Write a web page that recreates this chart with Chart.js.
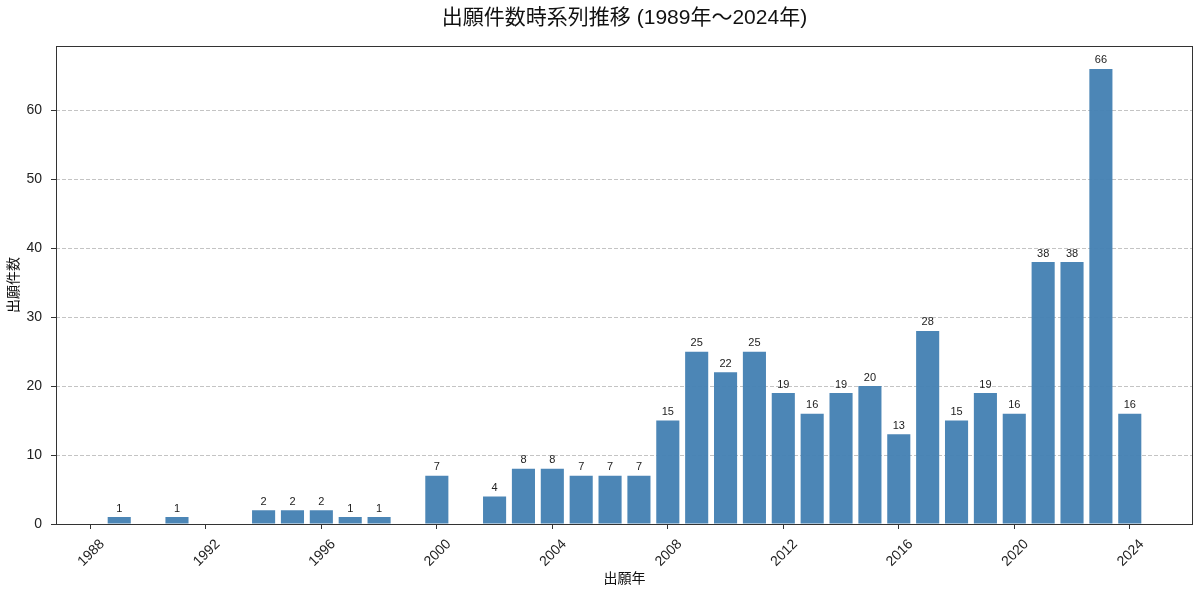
<!DOCTYPE html>
<html lang="ja">
<head>
<meta charset="utf-8">
<title>出願件数時系列推移</title>
<script src="https://cdn.jsdelivr.net/npm/chart.js@4.4.1/dist/chart.umd.min.js"></script>
<style>
  html, body { margin: 0; padding: 0; background: #fff; }
  #wrap { width: 1200px; height: 596px; position: relative; }
</style>
</head>
<body>
<div id="wrap"><canvas id="chart"></canvas></div>
<script>
// 出願年と件数
const years = [1989, 1991, 1994, 1995, 1996, 1997, 1998, 2000, 2002, 2003, 2004, 2005, 2006, 2007, 2008, 2009,
               2010, 2011, 2012, 2013, 2014, 2015, 2016, 2017, 2018, 2019, 2020, 2021, 2022, 2023, 2024];
const counts = [1, 1, 2, 2, 2, 1, 1, 7, 4, 8, 8, 7, 7, 7, 15, 25,
                22, 25, 19, 16, 19, 20, 13, 28, 15, 19, 16, 38, 38, 66, 16];
const xTicks = [1988, 1992, 1996, 2000, 2004, 2008, 2012, 2016, 2020, 2024];
const yTicks = [0, 10, 20, 30, 40, 50, 60];

const FONT = "'Liberation Sans', 'Noto Sans CJK JP', sans-serif";

// matplotlib風の余白 (5%)
const xMinData = years[0] - 0.4, xMaxData = years[years.length - 1] + 0.4;
const xPad = (xMaxData - xMinData) * 0.05;
const yMax = Math.max(...counts) * 1.05;

// 枠線（4辺）
const frame = {
    id: 'frame',
    afterDraw(chart) {
        const { ctx, chartArea: a } = chart;
        ctx.save();
        ctx.strokeStyle = '#333';
        ctx.lineWidth = 1;
        ctx.strokeRect(Math.round(a.left) + 0.5, Math.round(a.top) + 0.5,
                       Math.round(a.right - a.left) - 1, Math.round(a.bottom - a.top));
        ctx.restore();
    }
};

// 棒の上の数値
const valueLabels = {
    id: 'valueLabels',
    afterDraw(chart) {
        const { ctx } = chart;
        const meta = chart.getDatasetMeta(0);
        ctx.save();
        ctx.font = '11px ' + FONT;
        ctx.fillStyle = '#222';
        ctx.textAlign = 'center';
        ctx.textBaseline = 'bottom';
        meta.data.forEach((bar, i) => {
            ctx.fillText(String(counts[i]), bar.x, bar.y - 3);
        });
        ctx.restore();
    }
};

const ctx = document.getElementById('chart').getContext('2d');
const chart = new Chart(ctx, {
    type: 'bar',
    data: {
        datasets: [{
            label: '出願件数',
            data: years.map((y, i) => ({ x: y, y: counts[i] })),
            backgroundColor: 'rgba(70,130,180,0.97)',
            borderWidth: 0,
            barPercentage: 0.8,
            categoryPercentage: 1.0
        }]
    },
    options: {
        responsive: true,
        maintainAspectRatio: false,
        animation: false,
        devicePixelRatio: 1,
        layout: { padding: { left: 0, right: 7, top: 0, bottom: 0 } },
        plugins: {
            legend: { display: false },
            tooltip: { enabled: false },
            title: {
                display: true,
                text: '出願件数時系列推移 (1989年〜2024年)',
                fullSize: false,
                color: '#111',
                font: { family: FONT, size: 21, weight: 'normal', lineHeight: 1.2 },
                padding: { top: 6, bottom: 15 }
            }
        },
        scales: {
            x: {
                type: 'linear',
                offset: false,
                min: xMinData - xPad,
                max: xMaxData + xPad,
                afterBuildTicks: s => { s.ticks = xTicks.map(v => ({ value: v })); },
                afterFit: s => { s.height = 72; },
                grid: { offset: false, drawOnChartArea: false, drawTicks: true, tickLength: 5, tickColor: '#333' },
                border: { display: false },
                ticks: {
                    minRotation: 45,
                    maxRotation: 45,
                    autoSkip: false,
                    color: '#222',
                    padding: 7,
                    labelOffset: 12,
                    font: { family: FONT, size: 14 },
                    callback: v => String(v)
                },
                title: {
                    display: true,
                    text: '出願年',
                    color: '#111',
                    font: { family: FONT, size: 14 },
                    padding: { top: 0, bottom: 8 }
                }
            },
            y: {
                min: 0,
                max: yMax,
                z: 1,
                afterBuildTicks: s => { s.ticks = yTicks.map(v => ({ value: v })); },
                afterFit: s => { s.width = 56; },
                grid: {
                    color: 'rgba(176,176,176,0.75)',
                    lineWidth: 1,
                    tickLength: 5,
                    tickColor: '#333',
                    tickBorderDash: []
                },
                border: { display: false, dash: [4, 2] },
                ticks: {
                    color: '#222',
                    padding: 9,
                    font: { family: FONT, size: 14 },
                    callback: v => String(v)
                },
                title: {
                    display: true,
                    text: '出願件数',
                    color: '#111',
                    font: { family: FONT, size: 14 },
                    padding: { top: 6, bottom: 0 }
                }
            }
        }
    },
    plugins: [frame, valueLabels]
});
</script>
</body>
</html>
